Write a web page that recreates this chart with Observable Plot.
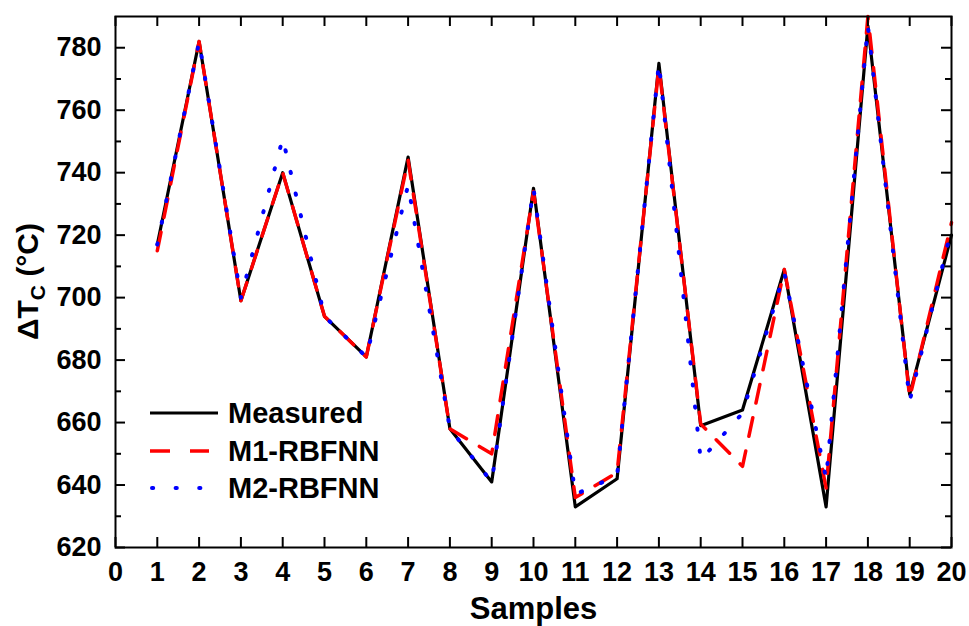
<!DOCTYPE html>
<html><head><meta charset="utf-8">
<script src="https://cdn.jsdelivr.net/npm/d3@7"></script>
<script src="https://cdn.jsdelivr.net/npm/@observablehq/plot@0.6"></script>
<style>
body{margin:0;background:#fff;}
#chart{position:relative;width:969px;height:626px;}
#legend{position:absolute;left:0;top:0;pointer-events:none;}
</style></head><body><div id="chart"></div>
<script>
// ---- data ----
const samples  = [1,2,3,4,5,6,7,8,9,10,11,12,13,14,15,16,17,18,19,20];
const measured = [717,782,699,740,694,681,745,658,641,735,633,642,775,659,664,709,633,787,669,720];
const m1rbfnn  = [715,782,699,740,694,681,744,658,650,734,636,644,774,659.5,646,709,639,790,668,724];
const m2rbfnn  = [717,782,700,751,694,681,736,658,641,735,637,643,775,648,663,708,642,787,667,722];
const xTicks   = [0,1,2,3,4,5,6,7,8,9,10,11,12,13,14,15,16,17,18,19,20];
const yMajor   = [620,640,660,680,700,720,740,760,780];
const yMinor   = [630,650,670,690,710,730,750,770];
const seriesNames = ["Measured","M1-RBFNN","M2-RBFNN"];

const W = 969, H = 626, mL = 115, mR = 18, mT = 16, mB = 79;
const innerW = W - mL - mR, innerH = H - mT - mB;
const FONT = "'Liberation Sans', Arial, sans-serif";
const rows = vals => samples.map((s, i) => ({x: s, y: vals[i]}));

const plot = Plot.plot({
  width: W, height: H,
  marginLeft: mL, marginRight: mR, marginTop: mT, marginBottom: mB,
  x: {domain: [0, 20]},
  y: {domain: [620, 790]},
  style: {fontFamily: FONT, color: "#000", background: "#fff", overflow: "visible"},
  marks: [
    Plot.line(rows(measured), {x: "x", y: "y", stroke: "#000", strokeWidth: 3.2}),
    Plot.line(rows(m1rbfnn), {x: "x", y: "y", stroke: "#ff0000", strokeWidth: 3.5, strokeDasharray: "19,15"}),
    Plot.line(rows(m2rbfnn), {x: "x", y: "y", stroke: "#0000ff", strokeWidth: 4, strokeDasharray: "1.2,21", strokeLinecap: "round"}),
    Plot.frame({stroke: "#000", strokeWidth: 2}),
    Plot.tickX(xTicks, {x: d => d, insetTop: innerH - 10, stroke: "#000", strokeWidth: 2}),
    Plot.tickX(xTicks, {x: d => d, insetBottom: innerH - 10, stroke: "#000", strokeWidth: 2}),
    Plot.tickY(yMajor, {y: d => d, insetLeft: innerW - 10, stroke: "#000", strokeWidth: 2}),
    Plot.tickY(yMajor, {y: d => d, insetRight: innerW - 10, stroke: "#000", strokeWidth: 2}),
    Plot.tickY(yMinor, {y: d => d, insetLeft: innerW - 6, stroke: "#000", strokeWidth: 2}),
    Plot.tickY(yMinor, {y: d => d, insetRight: innerW - 6, stroke: "#000", strokeWidth: 2}),
    Plot.axisX(xTicks, {tickSize: 0, tickPadding: 14, fontSize: 27, fontWeight: "bold", label: null}),
    Plot.axisY(yMajor, {tickSize: 0, tickPadding: 14, fontSize: 27, fontWeight: "bold", label: null, tickFormat: d => String(d)}),
    Plot.text(["Samples"], {frameAnchor: "bottom", dy: 71, fontSize: 31, fontWeight: "bold", fill: "#000"})
  ]
});
document.getElementById("chart").appendChild(plot);

// y-axis title with subscript
const svg = d3.select(plot);
const yl = svg.append("text")
  .attr("transform", `translate(38,${mT + innerH / 2}) rotate(-90)`)
  .attr("text-anchor", "middle")
  .attr("font-family", FONT).attr("font-weight", "bold").attr("font-size", 30).attr("fill", "#000");
yl.append("tspan").text("\u0394T");
yl.append("tspan").attr("font-size", 21).attr("dy", 7).text("C");
yl.append("tspan").attr("dy", -7).text(" (\u00B0C)");

// legend overlay
const lg = d3.select("#chart").append("svg").attr("id", "legend").attr("width", W).attr("height", H);
const legendRows = [
  {name: seriesNames[0], y: 413, stroke: "#000", w: 3.2, dash: null, x1: 150, x2: 218, cap: "butt"},
  {name: seriesNames[1], y: 451, stroke: "#ff0000", w: 3.5, dash: "20,20", x1: 150, x2: 209, cap: "butt"},
  {name: seriesNames[2], y: 488, stroke: "#0000ff", w: 4, dash: "1.2,22.4", x1: 152, x2: 201, cap: "round"}
];
legendRows.forEach(r => {
  const l = lg.append("line").attr("x1", r.x1).attr("x2", r.x2).attr("y1", r.y).attr("y2", r.y)
    .attr("stroke", r.stroke).attr("stroke-width", r.w).attr("stroke-linecap", r.cap);
  if (r.dash) l.attr("stroke-dasharray", r.dash);
  lg.append("text").attr("x", 228).attr("y", r.y).attr("dy", "0.36em")
    .attr("font-family", FONT).attr("font-weight", "bold").attr("font-size", 29).attr("fill", "#000")
    .text(r.name);
});
</script></body></html>
